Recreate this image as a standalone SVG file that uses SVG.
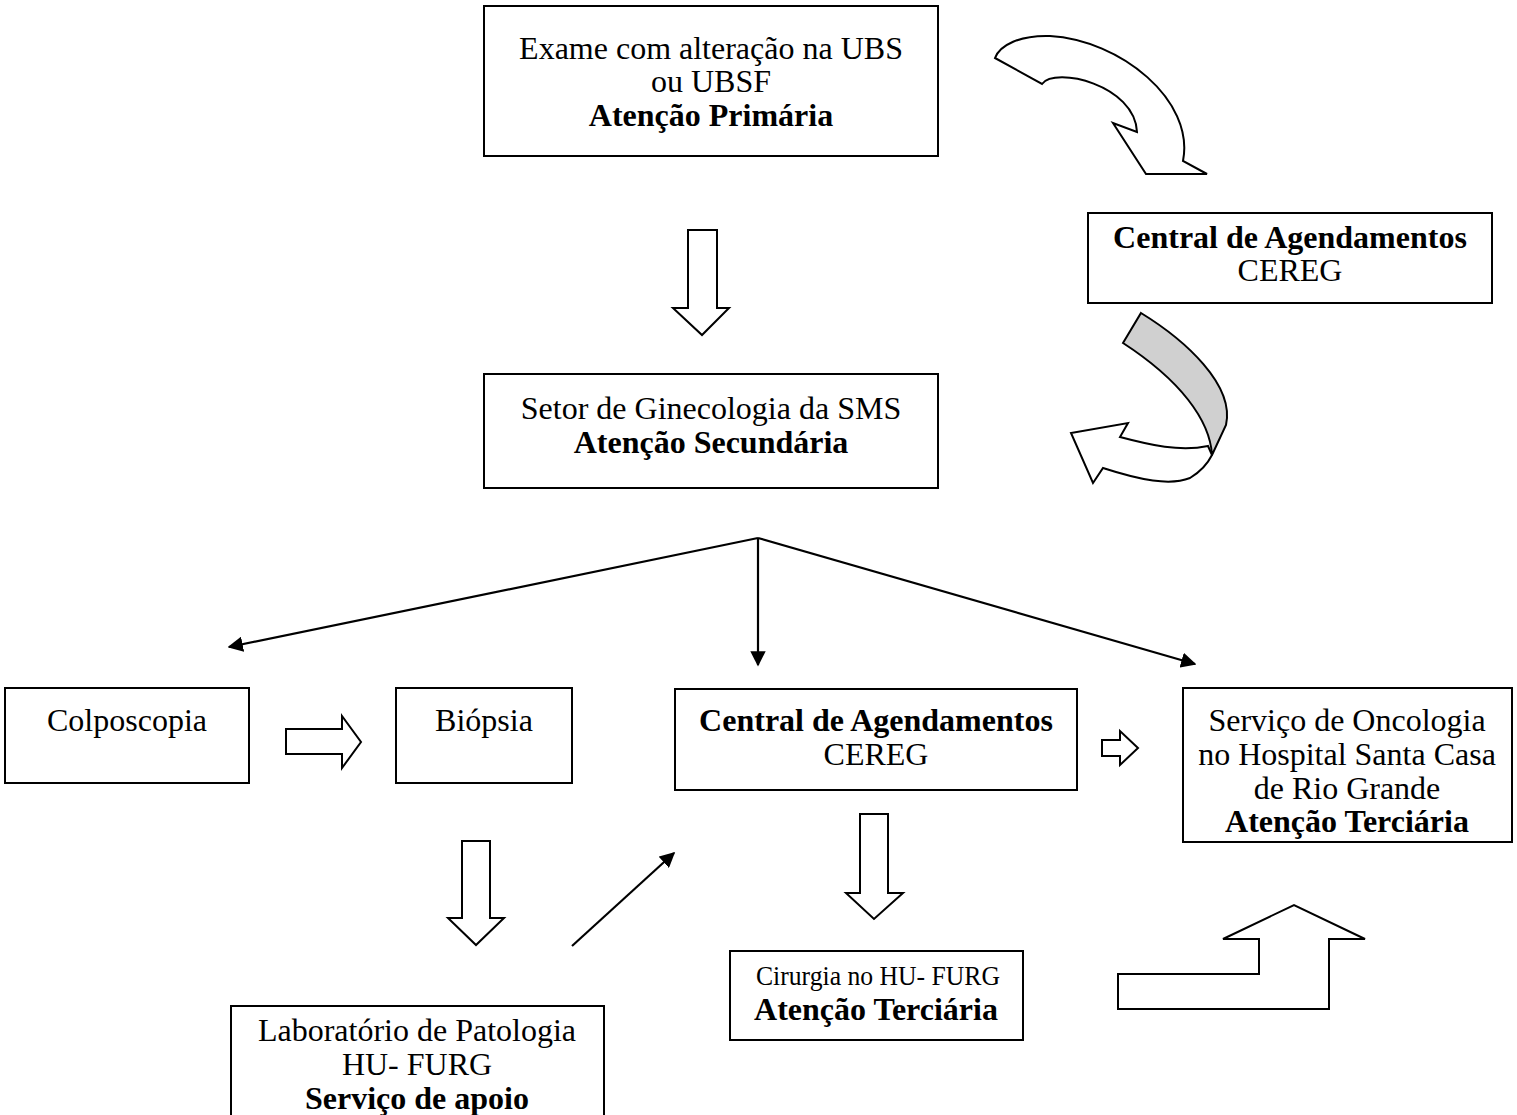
<svg xmlns="http://www.w3.org/2000/svg" width="1517" height="1115" viewBox="0 0 1517 1115">
  <style>
    .box { fill: #ffffff; stroke: #000000; stroke-width: 2; }
    .blk { fill: #ffffff; stroke: #000000; stroke-width: 2; stroke-linejoin: miter; }
    .t { font-family: "Liberation Serif", "Times New Roman", serif; font-size: 32px; fill: #000000; text-anchor: middle; }
    .b { font-weight: bold; }
    .ln { fill: none; stroke: #000000; stroke-width: 2.2; }
  </style>
  <defs>
    <marker id="head" viewBox="0 0 10 10" refX="9" refY="5" markerWidth="7" markerHeight="7" markerUnits="strokeWidth" orient="auto">
      <path d="M0,0 L10,5 L0,10 Z" fill="#000000"/>
    </marker>
  </defs>
  <rect width="1517" height="1115" fill="#ffffff"/>

  <!-- boxes -->
  <g id="atencao-primaria">
    <rect class="box" x="484" y="6" width="454" height="150"/>
    <text class="t" x="711" y="59">Exame com alteração na UBS</text>
    <text class="t" x="711" y="92">ou UBSF</text>
    <text class="t b" x="711" y="126">Atenção Primária</text>
  </g>
  <g id="central-agendamentos-1">
    <rect class="box" x="1088" y="213" width="404" height="90"/>
    <text class="t b" x="1290" y="248">Central de Agendamentos</text>
    <text class="t" x="1290" y="281">CEREG</text>
  </g>
  <g id="atencao-secundaria">
    <rect class="box" x="484" y="374" width="454" height="114"/>
    <text class="t" x="711" y="419">Setor de Ginecologia da SMS</text>
    <text class="t b" x="711" y="453">Atenção Secundária</text>
  </g>
  <g id="colposcopia">
    <rect class="box" x="5" y="688" width="244" height="95"/>
    <text class="t" x="127" y="731">Colposcopia</text>
  </g>
  <g id="biopsia">
    <rect class="box" x="396" y="688" width="176" height="95"/>
    <text class="t" x="484" y="731">Biópsia</text>
  </g>
  <g id="central-agendamentos-2">
    <rect class="box" x="675" y="689" width="402" height="101"/>
    <text class="t b" x="876" y="731">Central de Agendamentos</text>
    <text class="t" x="876" y="765">CEREG</text>
  </g>
  <g id="oncologia">
    <rect class="box" x="1183" y="688" width="329" height="154"/>
    <text class="t" x="1347" y="731">Serviço de Oncologia</text>
    <text class="t" x="1347" y="765">no Hospital Santa Casa</text>
    <text class="t" x="1347" y="799">de Rio Grande</text>
    <text class="t b" x="1347" y="832">Atenção Terciária</text>
  </g>
  <g id="cirurgia">
    <rect class="box" x="730" y="951" width="293" height="89"/>
    <text class="t" x="878" y="985" style="font-size:28px" textLength="244" lengthAdjust="spacingAndGlyphs">Cirurgia no HU- FURG</text>
    <text class="t b" x="876" y="1020">Atenção Terciária</text>
  </g>
  <g id="laboratorio">
    <rect class="box" x="231" y="1006" width="373" height="120"/>
    <text class="t" x="417" y="1041">Laboratório de Patologia</text>
    <text class="t" x="417" y="1075">HU- FURG</text>
    <text class="t b" x="417" y="1109">Serviço de apoio</text>
  </g>

  <!-- connectors -->
  <g id="connectors">
    <!-- curved arrow: primary care to scheduling centre -->
    <path class="blk" d="M995,58 L1042,84 C1055,66 1135,85 1137,132 L1113,123 L1146,174 L1207,174 L1183,161 C1195,100 1120,40 1050,36 C1020,35 1000,45 995,58 Z"/>
    <!-- folded ribbon arrow: scheduling centre back to secondary care -->
    <path d="M1123,343 L1141,313 C1185,340 1235,385 1226,425 L1212,455 C1210,420 1180,380 1123,343 Z" fill="#d0d0d0" stroke="#000000" stroke-width="2"/>
    <path class="blk" d="M1208,446 C1180,452 1150,445 1120,437 L1128,423 L1071,433 L1093,483 L1103,468 C1140,480 1170,486 1190,478 C1200,472 1207,465 1212,455 Z"/>

    <!-- block arrows -->
    <polygon class="blk" points="688,230 717,230 717,308 729,308 702,335 673,308 688,308"/>
    <polygon class="blk" points="286,729 342,729 342,716 361,742 342,768 342,754 286,754"/>
    <polygon class="blk" points="462,841 490,841 490,918 504,918 476,945 448,918 462,918"/>
    <polygon class="blk" points="860,814 888,814 888,893 903,893 874,919 846,893 860,893"/>
    <polygon class="blk" points="1102,740 1120,740 1120,731 1138,748 1120,765 1120,756 1102,756"/>
    <polygon class="blk" points="1118,974 1259,974 1259,939 1223,939 1294,905 1365,939 1329,939 1329,1009 1118,1009"/>

    <!-- line arrows from secondary care -->
    <line class="ln" x1="758" y1="538" x2="229" y2="647" marker-end="url(#head)"/>
    <line class="ln" x1="758" y1="538" x2="758" y2="665" marker-end="url(#head)"/>
    <line class="ln" x1="758" y1="538" x2="1195" y2="664" marker-end="url(#head)"/>
    <line class="ln" x1="572" y1="946" x2="674" y2="853" marker-end="url(#head)"/>
  </g>
</svg>
